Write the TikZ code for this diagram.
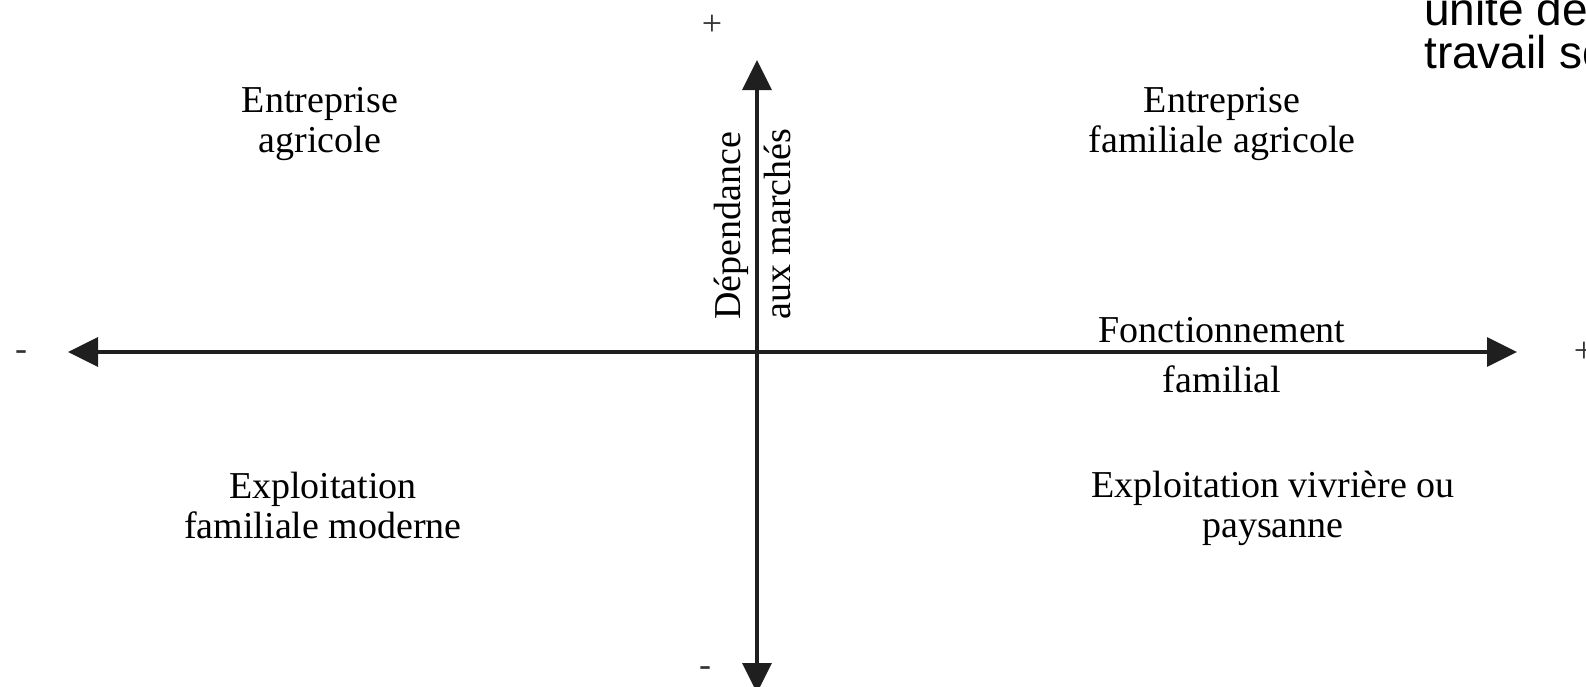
\documentclass[tikz,border=0pt]{standalone}
\usepackage{fontspec}
\setmainfont{Liberation Serif}
\newfontfamily\sansfont{Liberation Sans}
\usetikzlibrary{arrows.meta,positioning}

\begin{document}
\begin{tikzpicture}[x=1pt,y=-1pt,
  axis/.style={draw=black!88,line width=3.2pt,{Triangle[length=30pt,width=29pt]}-{Triangle[length=30pt,width=29pt]}},
  quadrant/.style={align=center,inner sep=0pt,font=\fontsize{38}{40}\selectfont},
  sign/.style={inner sep=0pt,text=black!80,font=\fontsize{36}{40}\selectfont}]
\useasboundingbox (0,0) rectangle (1586,686);
\clip (0,0) rectangle (1586,686);
% axes
\coordinate (left) at (68,352);
\coordinate (right) at (1517,352);
\coordinate (top) at (757,60);
\coordinate (bottom) at (757,693);
\draw[axis] (left) -- (right);
\draw[axis] (bottom) -- (top);
% signs at the ends
\node[sign] (plustop) at (712,25) {+};
\node[sign,anchor=base] (minusbottom) at (705,676) {-};
\node[sign,anchor=base] (minusleft) at (21,360) {-};
\node[sign] (plusright) at (1584,352) {+};
% axis titles
\node[quadrant,anchor=base] (fonct) at (1222,342) {Fonctionnement};
\node[quadrant,anchor=base] (famil) at (1222,392) {familial};
\node[quadrant,rotate=90,anchor=base west] (depend) at (740,320) {Dépendance};
\node[quadrant,rotate=90,anchor=base west] (marches) at (790,320) {aux marchés};
% quadrants
\node[quadrant] (entagri) at (320,124) {Entreprise\\agricole};
\node[quadrant] (entfam) at (1222,124) {Entreprise\\familiale agricole};
\node[quadrant] (expfam) at (323,505) {Exploitation\\familiale moderne};
\node[quadrant] (expviv) at (1273,508) {Exploitation vivrière ou\\paysanne};
% cut text top right
\node[anchor=base west,align=left,inner sep=0pt,font=\sansfont\fontsize{46}{43}\selectfont] (unite) at (1424,68) {unité de\\travail so};
\end{tikzpicture}
\end{document}
